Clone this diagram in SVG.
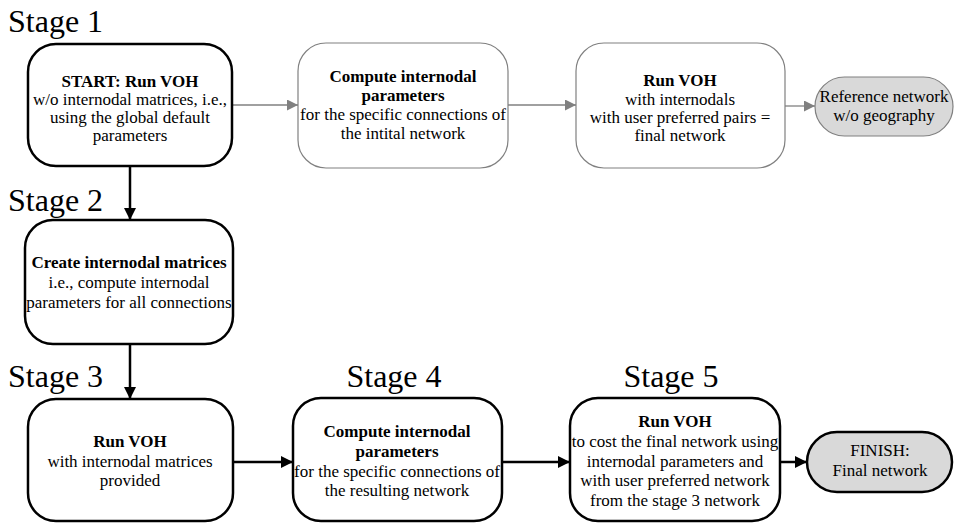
<svg xmlns="http://www.w3.org/2000/svg" width="954" height="523" viewBox="0 0 954 523">
  <defs>
    <marker id="arrowBlack" viewBox="0 0 12 12" refX="12" refY="6" markerWidth="12" markerHeight="12" markerUnits="userSpaceOnUse" orient="auto">
      <path d="M0,0 L12,6 L0,12 Z" fill="#000"/>
    </marker>
    <marker id="arrowGray" viewBox="0 0 12 12" refX="12" refY="6" markerWidth="11" markerHeight="11" markerUnits="userSpaceOnUse" orient="auto">
      <path d="M0,0 L12,6 L0,12 Z" fill="#808080"/>
    </marker>
  </defs>
  <style>
    text { font-family: "Liberation Serif", "DejaVu Serif", serif; font-weight: normal; fill: #000; }
    .stage { font-size: 32px; }
    .t { font-size: 17px; text-anchor: middle; }
    .b { font-weight: bold; }
    .boxBold { fill: #fff; stroke: #000; stroke-width: 2.5; }
    .boxThin { fill: #fff; stroke: #808080; stroke-width: 1.2; }
    .endGray { fill: #d9d9d9; stroke: #808080; stroke-width: 1.2; }
    .endBold { fill: #d9d9d9; stroke: #000; stroke-width: 2.5; }
    .edgeBlack { stroke: #000; stroke-width: 2.5; fill: none; marker-end: url(#arrowBlack); }
    .edgeGray { stroke: #808080; stroke-width: 1.3; fill: none; marker-end: url(#arrowGray); }
  </style>

  <rect width="954" height="523" fill="#fff"/>

  <!-- stage headings -->
  <g id="stage-labels">
    <text class="stage" x="8" y="32">Stage 1</text>
    <text class="stage" x="8" y="211">Stage 2</text>
    <text class="stage" x="8" y="387">Stage 3</text>
    <text class="stage" x="394" y="387" text-anchor="middle">Stage 4</text>
    <text class="stage" x="671" y="387" text-anchor="middle">Stage 5</text>
  </g>

  <!-- connectors -->
  <g id="connectors">
    <line class="edgeGray" x1="232" y1="105" x2="298" y2="105"/>
    <line class="edgeGray" x1="508" y1="105" x2="576" y2="105"/>
    <line class="edgeGray" x1="785" y1="106" x2="815" y2="106"/>
    <line class="edgeBlack" x1="130" y1="166" x2="130" y2="220"/>
    <line class="edgeBlack" x1="130" y1="344" x2="130" y2="399"/>
    <line class="edgeBlack" x1="233" y1="462" x2="293" y2="462"/>
    <line class="edgeBlack" x1="502" y1="462" x2="570" y2="462"/>
    <line class="edgeBlack" x1="780" y1="462" x2="807" y2="462"/>
  </g>

  <g id="start">
    <rect class="boxBold" x="28" y="44" width="204" height="122" rx="28" ry="28"/>
    <text class="t b" x="130" y="87">START: Run VOH</text>
    <text class="t" x="130" y="105">w/o internodal matrices, i.e.,</text>
    <text class="t" x="130" y="123">using the global default</text>
    <text class="t" x="130" y="141">parameters</text>
  </g>

  <g id="compute-initial">
    <rect class="boxThin" x="298" y="43" width="210" height="125" rx="28" ry="28"/>
    <text class="t b" x="403" y="82">Compute internodal</text>
    <text class="t b" x="403" y="101">parameters</text>
    <text class="t" x="403" y="120">for the specific connections of</text>
    <text class="t" x="403" y="139">the intital network</text>
  </g>

  <g id="run-preferred-pairs">
    <rect class="boxThin" x="576" y="43" width="209" height="125" rx="28" ry="28"/>
    <text class="t b" x="680" y="86">Run VOH</text>
    <text class="t" x="680" y="105">with internodals</text>
    <text class="t" x="680" y="123">with user preferred pairs =</text>
    <text class="t" x="680" y="141">final network</text>
  </g>

  <g id="reference-network">
    <rect class="endGray" x="815" y="77" width="138" height="59" rx="29.5" ry="29.5"/>
    <text class="t" x="884" y="102">Reference network</text>
    <text class="t" x="884" y="121">w/o geography</text>
  </g>

  <g id="create-matrices">
    <rect class="boxBold" x="25" y="220" width="208" height="124" rx="28" ry="28"/>
    <text class="t b" x="129" y="268">Create internodal matrices</text>
    <text class="t" x="129" y="288">i.e., compute internodal</text>
    <text class="t" x="129" y="308">parameters for all connections</text>
  </g>

  <g id="run-with-matrices">
    <rect class="boxBold" x="28" y="399" width="205" height="122" rx="28" ry="28"/>
    <text class="t b" x="130" y="447">Run VOH</text>
    <text class="t" x="130" y="467">with internodal matrices</text>
    <text class="t" x="130" y="486">provided</text>
  </g>

  <g id="compute-resulting">
    <rect class="boxBold" x="293" y="398" width="209" height="123" rx="28" ry="28"/>
    <text class="t b" x="397" y="437">Compute internodal</text>
    <text class="t b" x="397" y="457">parameters</text>
    <text class="t" x="397" y="477">for the specific connections of</text>
    <text class="t" x="397" y="496">the resulting network</text>
  </g>

  <g id="run-final-cost">
    <rect class="boxBold" x="570" y="398" width="210" height="123" rx="28" ry="28"/>
    <text class="t b" x="675" y="427">Run VOH</text>
    <text class="t" x="675" y="447">to cost the final network using</text>
    <text class="t" x="675" y="467">internodal parameters and</text>
    <text class="t" x="675" y="486">with user preferred network</text>
    <text class="t" x="675" y="506">from the stage 3 network</text>
  </g>

  <g id="finish">
    <rect class="endBold" x="807" y="432" width="145" height="60" rx="30" ry="30"/>
    <text class="t" x="880" y="456">FINISH:</text>
    <text class="t" x="880" y="476">Final network</text>
  </g>
</svg>
